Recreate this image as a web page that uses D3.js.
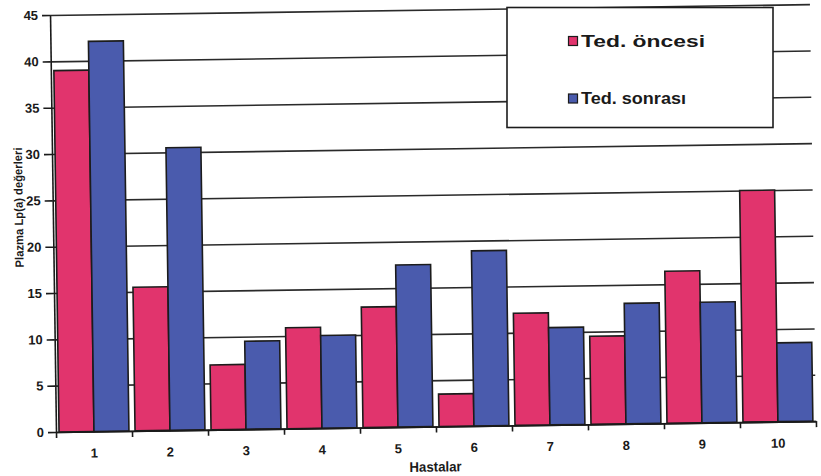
<!DOCTYPE html>
<html>
<head>
<meta charset="utf-8">
<script src="https://cdn.jsdelivr.net/npm/d3@7"></script>
<style>
  html, body { margin: 0; padding: 0; background: #fff; }
  svg text { font-family: "Liberation Sans", Arial, sans-serif; font-weight: bold; fill: #1a1a1a; }
</style>
</head>
<body>
<svg id="chart" width="821" height="476"></svg>
<script>
const patients = ["1", "2", "3", "4", "5", "6", "7", "8", "9", "10"];
const seriesNames = ["Ted. öncesi", "Ted. sonrası"];
const tedOncesi = [39.0, 15.5, 7.0, 10.9, 13.0, 3.5, 12.1, 9.5, 16.4, 25.0];
const tedSonrasi = [42.1, 30.5, 9.5, 10.0, 17.5, 18.9, 10.5, 13.0, 13.0, 8.5];
const yTicks = [0, 5, 10, 15, 20, 25, 30, 35, 40, 45];
const colors = ["#e1346d", "#4a5bad"];

const svg = d3.select("#chart");
const width = 760, height = 417;
const ox = 56, oy = 432; // bottom-left corner of the plot

// the scanned chart sits slightly tilted
const outer = svg.append("g").attr("transform", `rotate(-0.82 ${ox} ${oy})`);
const g = outer.append("g").attr("transform", `translate(${ox},${oy - height})`);

const x = d3.scaleBand().domain(patients).range([0, width]).paddingInner(0.08).paddingOuter(0.04);
const x1 = d3.scaleBand().domain(seriesNames).range([0, x.bandwidth()]);
const xEdge = d3.scaleLinear().domain([0, patients.length]).range([0, width]);
const y = d3.scaleLinear().domain([0, 45]).range([height, 0]);

// gridlines
const grid = g.append("g").call(d3.axisLeft(y).tickValues(yTicks).tickSize(-width).tickFormat(""));
grid.select(".domain").remove();
grid.selectAll("line").attr("stroke", "#2a2a2a").attr("stroke-width", 1.6);

// bars
const rows = patients.map((p, i) => ({ p, values: [tedOncesi[i], tedSonrasi[i]] }));
g.selectAll(".group").data(rows).enter().append("g")
  .attr("transform", d => `translate(${x(d.p)},0)`)
  .selectAll("rect").data(d => d.values.map((v, k) => ({ k, v }))).enter().append("rect")
  .attr("x", d => x1(seriesNames[d.k]))
  .attr("width", x1.bandwidth())
  .attr("y", d => y(d.v))
  .attr("height", d => y(0) - y(d.v))
  .attr("fill", d => colors[d.k])
  .attr("stroke", "#1c1c1c").attr("stroke-width", 1.6);

// y axis
const yAxis = g.append("g").call(d3.axisLeft(y).tickValues(yTicks).tickSizeInner(8).tickSizeOuter(0).tickPadding(4));
yAxis.selectAll("line, path").attr("stroke", "#1a1a1a").attr("stroke-width", 1.6);
yAxis.selectAll("text").attr("font-size", 13).style("font-weight", "bold").attr("fill", "#1a1a1a");

// x axis: ticks between patients, labels at band centers
const xAxis = g.append("g").attr("transform", `translate(0,${height})`)
  .call(d3.axisBottom(xEdge).tickValues(d3.range(patients.length + 1)).tickSizeInner(6).tickSizeOuter(0).tickFormat(""));
xAxis.selectAll("line, path").attr("stroke", "#1a1a1a").attr("stroke-width", 1.6);

g.selectAll(".xlabel").data(patients).enter().append("text")
  .attr("x", d => x(d) + x.bandwidth() / 2)
  .attr("y", height + 26)
  .attr("text-anchor", "middle").attr("font-size", 13)
  .text(d => d);

g.append("text").attr("x", 379).attr("y", height + 45)
  .attr("text-anchor", "middle").attr("font-size", 14)
  .attr("textLength", 52).attr("lengthAdjust", "spacingAndGlyphs").text("Hastalar");
g.append("text").attr("transform", "translate(-30,192) rotate(-90)")
  .attr("text-anchor", "middle").attr("font-size", 12)
  .attr("textLength", 120).attr("lengthAdjust", "spacingAndGlyphs").text("Plazma Lp(a) değerleri");

// legend
const legend = svg.append("g");
legend.append("rect").attr("x", 507).attr("y", 7.5).attr("width", 266).attr("height", 120)
  .attr("fill", "#fff").attr("stroke", "#1c1c1c").attr("stroke-width", 1.6);
const legendY = d3.scalePoint().domain(seriesNames).range([46.5, 104]);
const textLen = [124, 105];
seriesNames.forEach((name, i) => {
  legend.append("rect").attr("x", 568.5).attr("y", legendY(name) - 10).attr("width", 9).attr("height", 9)
    .attr("fill", colors[i]).attr("stroke", "#1c1c1c").attr("stroke-width", 1.2);
  legend.append("text").attr("x", 581).attr("y", legendY(name))
    .attr("font-size", 17).attr("textLength", textLen[i]).attr("lengthAdjust", "spacingAndGlyphs")
    .text(name);
});
</script>
</body>
</html>
